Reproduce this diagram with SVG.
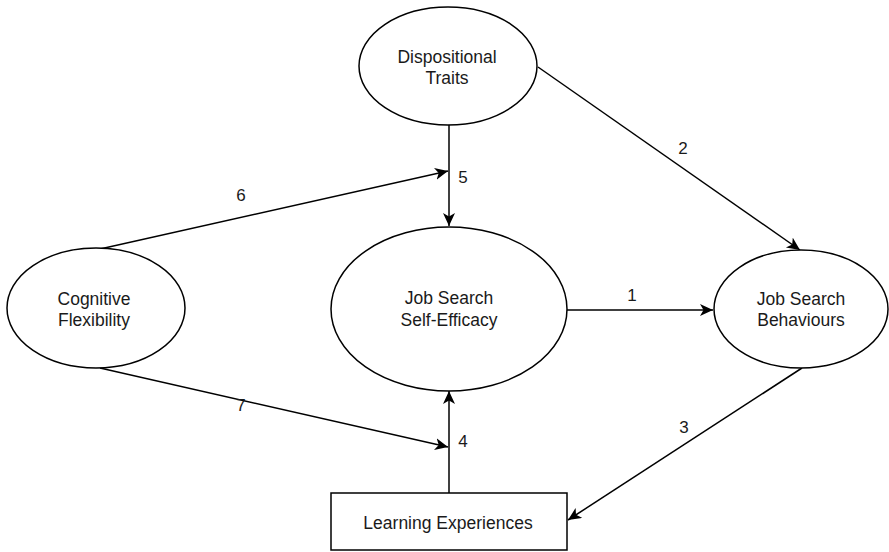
<svg xmlns="http://www.w3.org/2000/svg" width="889" height="552" viewBox="0 0 889 552">
<style>
.n{fill:#fff;stroke:#000;stroke-width:1.5}
.t{font-family:"Liberation Sans",Arial,sans-serif;font-size:17.5px;fill:#1a1a1a;text-anchor:middle}
.l{font-family:"Liberation Sans",Arial,sans-serif;font-size:17px;fill:#1a1a1a;text-anchor:middle}
.c{fill:none;stroke:#000;stroke-width:1.5}
</style>
<defs>
<marker id="a" markerUnits="userSpaceOnUse" markerWidth="16" markerHeight="14" refX="13" refY="6" orient="auto">
<path d="M0,0 L13,6 L0,12 L3.5,6 Z" fill="#000"/>
</marker>
</defs>
<rect width="889" height="552" fill="#fff"/>
<g id="connectors">
<line class="c" x1="449" y1="125" x2="449" y2="226" marker-end="url(#a)"/>
<line class="c" x1="538" y1="67" x2="800" y2="250" marker-end="url(#a)"/>
<line class="c" x1="567" y1="310" x2="713" y2="310" marker-end="url(#a)"/>
<line class="c" x1="802" y1="368" x2="568" y2="520" marker-end="url(#a)"/>
<line class="c" x1="449" y1="493" x2="449" y2="391" marker-end="url(#a)"/>
<line class="c" x1="100" y1="249" x2="448" y2="171" marker-end="url(#a)"/>
<line class="c" x1="100" y1="368" x2="448" y2="447" marker-end="url(#a)"/>
<text class="l" x="632" y="301">1</text>
<text class="l" x="683" y="154">2</text>
<text class="l" x="684" y="433">3</text>
<text class="l" x="463" y="447">4</text>
<text class="l" x="463" y="183">5</text>
<text class="l" x="241" y="201">6</text>
<text class="l" x="241" y="411">7</text>
</g>
<g id="dispositional">
<ellipse class="n" cx="448" cy="66" rx="89" ry="59"/>
<text class="t" x="447" y="63">Dispositional</text>
<text class="t" x="447" y="84">Traits</text>
</g>
<g id="cognitive">
<ellipse class="n" cx="96" cy="308" rx="89" ry="60"/>
<text class="t" x="94" y="305">Cognitive</text>
<text class="t" x="94" y="326">Flexibility</text>
</g>
<g id="selfefficacy">
<ellipse class="n" cx="449" cy="309" rx="118" ry="82"/>
<text class="t" x="449" y="304">Job Search</text>
<text class="t" x="449" y="326">Self-Efficacy</text>
</g>
<g id="behaviours">
<ellipse class="n" cx="801" cy="309" rx="87" ry="59"/>
<text class="t" x="801" y="305">Job Search</text>
<text class="t" x="801" y="326">Behaviours</text>
</g>
<g id="learning">
<rect class="n" x="331" y="493" width="236" height="57"/>
<text class="t" x="448" y="529">Learning Experiences</text>
</g>
</svg>
